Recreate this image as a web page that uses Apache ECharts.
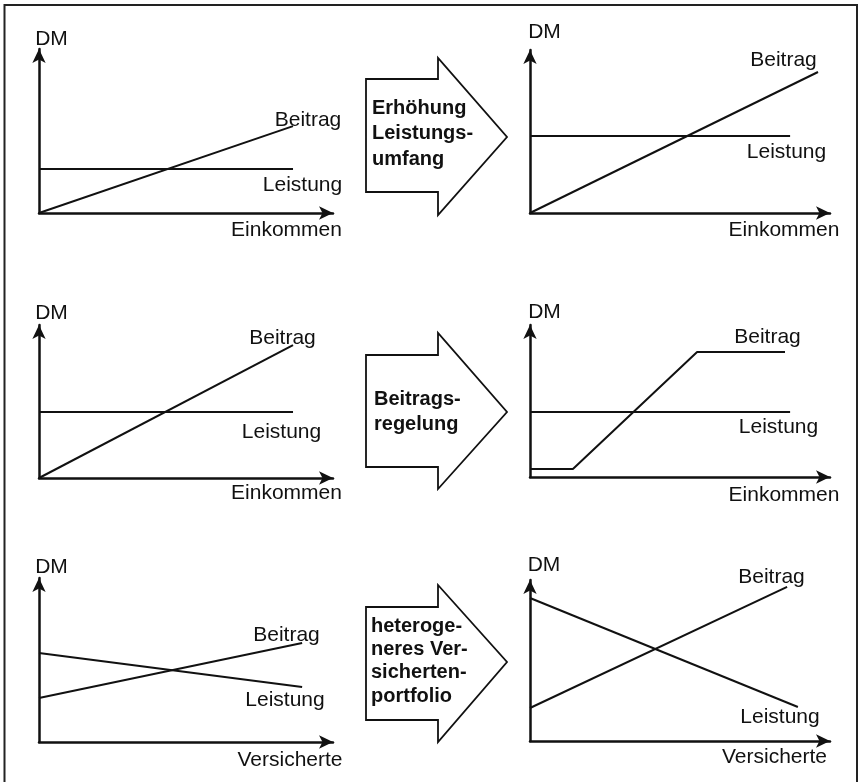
<!DOCTYPE html>
<html>
<head>
<meta charset="utf-8">
<script src="https://cdn.jsdelivr.net/npm/echarts@6/dist/echarts.min.js"></script>
<style>
html,body{margin:0;padding:0;background:#fff;}
#chart{width:860px;height:782px;}
</style>
</head>
<body>
<div id="chart"></div>
<script>
// ---- data (schematic values, axis range 0..100) ----
const yAxisName = 'DM';
const xNameIncome = 'Einkommen';
const xNameInsured = 'Versicherte';
const seriesNames = ['Beitrag', 'Leistung'];
const arrowTexts = ['Erhöhung\nLeistungs-\numfang', 'Beitrags-\nregelung', 'heteroge-\nneres Ver-\nsicherten-\nportfolio'];

// panel 1 (top left)
const p1Beitrag = [[0, 0], [86.4, 53.0]];
const p1Leistung = [[0, 26.8], [86.4, 26.8]];
// panel 2 (top right)
const p2Beitrag = [[0, 0], [96.0, 86.5]];
const p2Leistung = [[0, 47.2], [86.7, 47.2]];
// panel 3 (middle left)
const p3Beitrag = [[0, 0], [86.4, 86.9]];
const p3Leistung = [[0, 43.1], [86.4, 43.1]];
// panel 4 (middle right)
const p4Beitrag = [[0, 5.3], [14.3, 5.3], [55.7, 82.2], [85.0, 82.2]];
const p4Leistung = [[0, 42.8], [86.7, 42.8]];
// panel 5 (bottom left)
const p5Beitrag = [[0, 26.8], [89.5, 60.4]];
const p5Leistung = [[0, 54.3], [89.5, 33.5]];
// panel 6 (bottom right)
const p6Beitrag = [[0, 20.5], [85.7, 95.7]];
const p6Leistung = [[0, 88.8], [89.3, 21.1]];

const panelData = [
  [p1Beitrag, p1Leistung], [p2Beitrag, p2Leistung],
  [p3Beitrag, p3Leistung], [p4Beitrag, p4Leistung],
  [p5Beitrag, p5Leistung], [p6Beitrag, p6Leistung]
];
const panelXNames = [xNameIncome, xNameIncome, xNameIncome, xNameIncome, xNameInsured, xNameInsured];

// ---- layout ----
const grids = [
  {left: 39, top: 49, width: 294, height: 164},
  {left: 530, top: 50, width: 300, height: 163},
  {left: 39, top: 325, width: 294, height: 153},
  {left: 530, top: 325, width: 300, height: 152},
  {left: 39, top: 578, width: 294, height: 164},
  {left: 530, top: 580, width: 300, height: 161}
];
// label centres [DM, Beitrag, Leistung, xName]
const labelPos = [
  [[51.5, 39], [308, 120], [302.5, 185], [286.5, 230]],
  [[544.5, 32], [783.5, 60], [786.5, 152], [784, 230]],
  [[51.5, 313], [282.5, 338], [281.5, 432], [286.5, 493]],
  [[544.5, 312], [767.5, 337], [778.5, 427], [784, 495]],
  [[51.5, 567], [286.5, 635], [285, 700], [290, 760]],
  [[544, 565], [771.5, 577], [780, 717], [774.5, 757]]
];
const arrowShapes = [
  [[366,79],[438,79],[438,58],[507,137],[438,215],[438,192],[366,192]],
  [[366,355],[438,355],[438,333],[507,412],[438,489],[438,467],[366,467]],
  [[366,607],[438,607],[438,585],[507,662],[438,742],[438,720],[366,720]]
];
const arrowTextPos = [[372, 95.5, 25.5], [374, 387, 24.7], [371, 614.5, 23.3]];

const FONT = '"Liberation Sans", Arial, Helvetica, sans-serif';
const INK = '#111';

const axisCommon = {
  type: 'value', min: 0, max: 100,
  axisLine: {show: true, onZero: false, symbol: ['none', 'arrow'], symbolSize: [10, 14],
    lineStyle: {color: INK, width: 2.5}},
  axisTick: {show: false}, axisLabel: {show: false}, splitLine: {show: false}
};

const xAxis = [], yAxis = [], series = [], graphic = [];
grids.forEach((g, i) => {
  xAxis.push(Object.assign({gridIndex: i}, axisCommon));
  yAxis.push(Object.assign({gridIndex: i}, axisCommon));
  panelData[i].forEach((d, k) => {
    series.push({
      type: 'line', name: seriesNames[k], xAxisIndex: i, yAxisIndex: i,
      data: d, showSymbol: false, symbol: 'none', silent: true,
      lineStyle: {color: INK, width: 2}, z: 3
    });
  });
  const texts = [yAxisName, seriesNames[0], seriesNames[1], panelXNames[i]];
  texts.forEach((t, k) => {
    const p = labelPos[i][k];
    graphic.push({
      type: 'text', x: p[0], y: p[1], z: 10, silent: true,
      style: {text: t, fill: INK, fontSize: 21, fontFamily: FONT,
        align: 'center', verticalAlign: 'middle', textAlign: 'center', textVerticalAlign: 'middle'}
    });
  });
});

// frame
graphic.push({
  type: 'rect', z: 1, silent: true,
  shape: {x: 4.5, y: 5, width: 852.5, height: 800},
  style: {fill: 'none', stroke: '#222', lineWidth: 2}
});
// transition arrows
arrowShapes.forEach((pts, i) => {
  graphic.push({
    type: 'polygon', z: 5, silent: true,
    shape: {points: pts},
    style: {fill: '#fff', stroke: INK, lineWidth: 1.8}
  });
  const tp = arrowTextPos[i];
  graphic.push({
    type: 'text', x: tp[0], y: tp[1], z: 11, silent: true,
    style: {text: arrowTexts[i], fill: INK, fontSize: 20, fontWeight: 'bold', fontFamily: FONT,
      lineHeight: tp[2], align: 'left', verticalAlign: 'top', textAlign: 'left', textVerticalAlign: 'top'}
  });
});

const chart = echarts.init(document.getElementById('chart'), null, {renderer: 'canvas'});
chart.setOption({
  backgroundColor: '#fff',
  animation: false,
  grid: grids.map(g => Object.assign({containLabel: false}, g)),
  xAxis: xAxis,
  yAxis: yAxis,
  series: series,
  graphic: graphic
});
</script>
</body>
</html>
